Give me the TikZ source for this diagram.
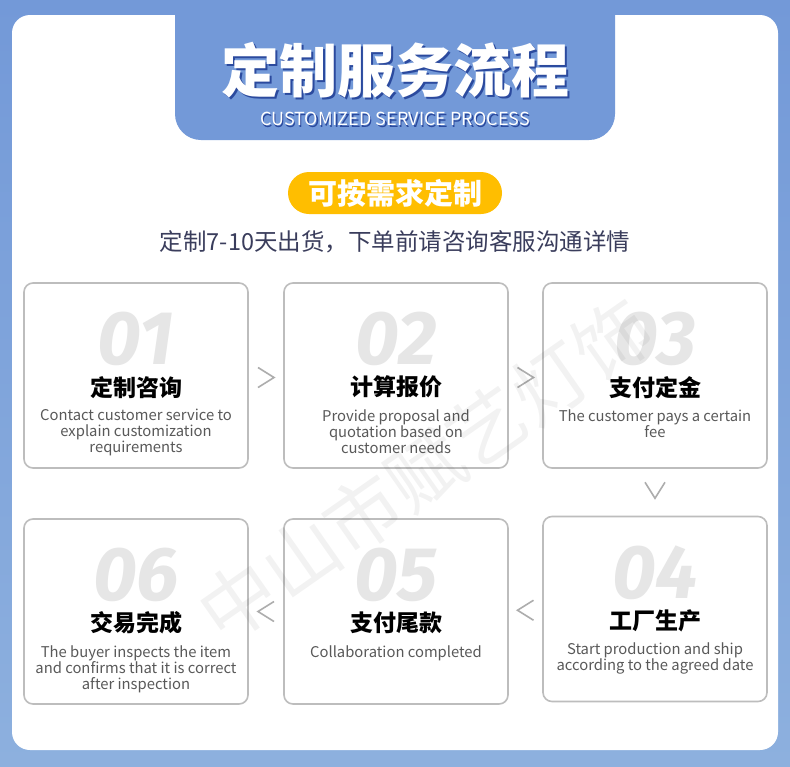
\documentclass[tikz,border=0pt]{standalone}
\usepackage{fontspec}
\setmainfont{Noto Sans CJK SC}
\newfontfamily\numfont{Fira Sans}
\usetikzlibrary{calc}
\definecolor{bgtop}{HTML}{7399D8}
\definecolor{bgbot}{HTML}{8DB0DE}
\definecolor{shadowblue}{HTML}{2B4A9E}
\definecolor{pillyellow}{HTML}{FFBE00}
\definecolor{navytext}{HTML}{3A3D5C}
\definecolor{boxgray}{HTML}{BDBDBD}
\definecolor{numgray}{HTML}{E6E6E6}
\definecolor{descgray}{HTML}{595959}
\definecolor{chevgray}{HTML}{ADADAD}
\begin{document}
\begin{tikzpicture}[x=1pt,y=-1pt,
  stepbox/.style={draw=boxgray,line width=1.6pt,rounded corners=9pt,fill=white,minimum width=224pt,minimum height=185pt},
  num/.style={text=numgray,inner sep=0pt,font=\numfont\bfseries\itshape\fontsize{76}{76}\selectfont},
  head/.style={inner sep=0pt,font=\bfseries\fontsize{23}{24}\selectfont},
  desc/.style={text=descgray,align=center,inner sep=0pt,font=\fontsize{14.8}{16}\selectfont},
  chev/.style={draw=chevgray,line width=1.6pt}]
\useasboundingbox (0,0) rectangle (790,766);
\shade[top color=bgtop,bottom color=bgbot] (0,0) rectangle (790,766);
\fill[white,rounded corners=18pt] (12,15) rectangle (778,750);
\fill[bgtop,rounded corners=26pt] (175,-40) rectangle (615,140);

% heading
\node[text=shadowblue,font=\bfseries\fontsize{58}{58}\selectfont] (title-shadow) at (397.5,72.5) {定制服务流程};
\node[text=white,font=\bfseries\fontsize{58}{58}\selectfont] (title) at (395,70) {定制服务流程};
\node[text=shadowblue,font=\fontsize{18}{18}\selectfont] (sub-shadow) at (396.5,120.5) {CUSTOMIZED SERVICE PROCESS};
\node[text=white,font=\fontsize{18}{18}\selectfont] (sub) at (395,119) {CUSTOMIZED SERVICE PROCESS};
\node[fill=pillyellow,rounded corners=21pt,minimum width=214pt,minimum height=42pt,text=white,font=\bfseries\fontsize{29}{29}\selectfont] (tag) at (395,193) {可按需求定制};
\node[text=navytext,font=\fontsize{23.5}{23.5}\selectfont] (note) at (395,242) {定制7-10天出货，下单前请咨询客服沟通详情};

% steps
\foreach \i/\x/\y/\t/\d in {
  1/136/375.5/定制咨询/{Contact customer service to\\explain customization\\requirements},
  2/396/375.5/计算报价/{Provide proposal and\\quotation based on\\customer needs},
  3/655/375.5/支付定金/{The customer pays a certain\\fee},
  4/655/609/工厂生产/{Start production and ship\\according to the agreed date},
  5/396/611.5/支付尾款/{Collaboration completed},
  6/136/611.5/交易完成/{The buyer inspects the item\\and confirms that it is correct\\after inspection}} {
  \node[stepbox] (s\i) at (\x,\y) {};
  \node[num] (n\i) at ($(s\i.north)+(0,57)$) {0\i};
  \node[head] (h\i) at ($(s\i.north)+(0,105)$) {\t};
  \node[desc,anchor=north] (d\i) at ($(s\i.north)+(0,127)$) {\d};
}

% chevrons
\coordinate (c12) at ($(s1.east)!0.5!(s2.west)+(0,2)$);
\coordinate (c23) at ($(s2.east)!0.5!(s3.west)+(0,2)$);
\coordinate (c34) at ($(s3.south)!0.5!(s4.north)+(0,-2)$);
\coordinate (c45) at ($(s5.east)!0.5!(s4.west)$);
\coordinate (c56) at ($(s6.east)!0.5!(s5.west)$);
\draw[chev] ($(c12)+(-8,-10)$) -- ($(c12)+(8,0)$) -- ($(c12)+(-8,10)$);
\draw[chev] ($(c23)+(-8,-10)$) -- ($(c23)+(8,0)$) -- ($(c23)+(-8,10)$);
\draw[chev] ($(c34)+(-10,-8)$) -- ($(c34)+(0,8)$) -- ($(c34)+(10,-8)$);
\draw[chev] ($(c45)+(8,-10)$) -- ($(c45)+(-8,0)$) -- ($(c45)+(8,10)$);
\draw[chev] ($(c56)+(8,-10)$) -- ($(c56)+(-8,0)$) -- ($(c56)+(8,10)$);

% watermark
\node[text=black,opacity=0.05,rotate=35,font=\fontsize{76}{76}\selectfont] (mark) at (425,470) {中山市赋艺灯饰};
\end{tikzpicture}
\end{document}
